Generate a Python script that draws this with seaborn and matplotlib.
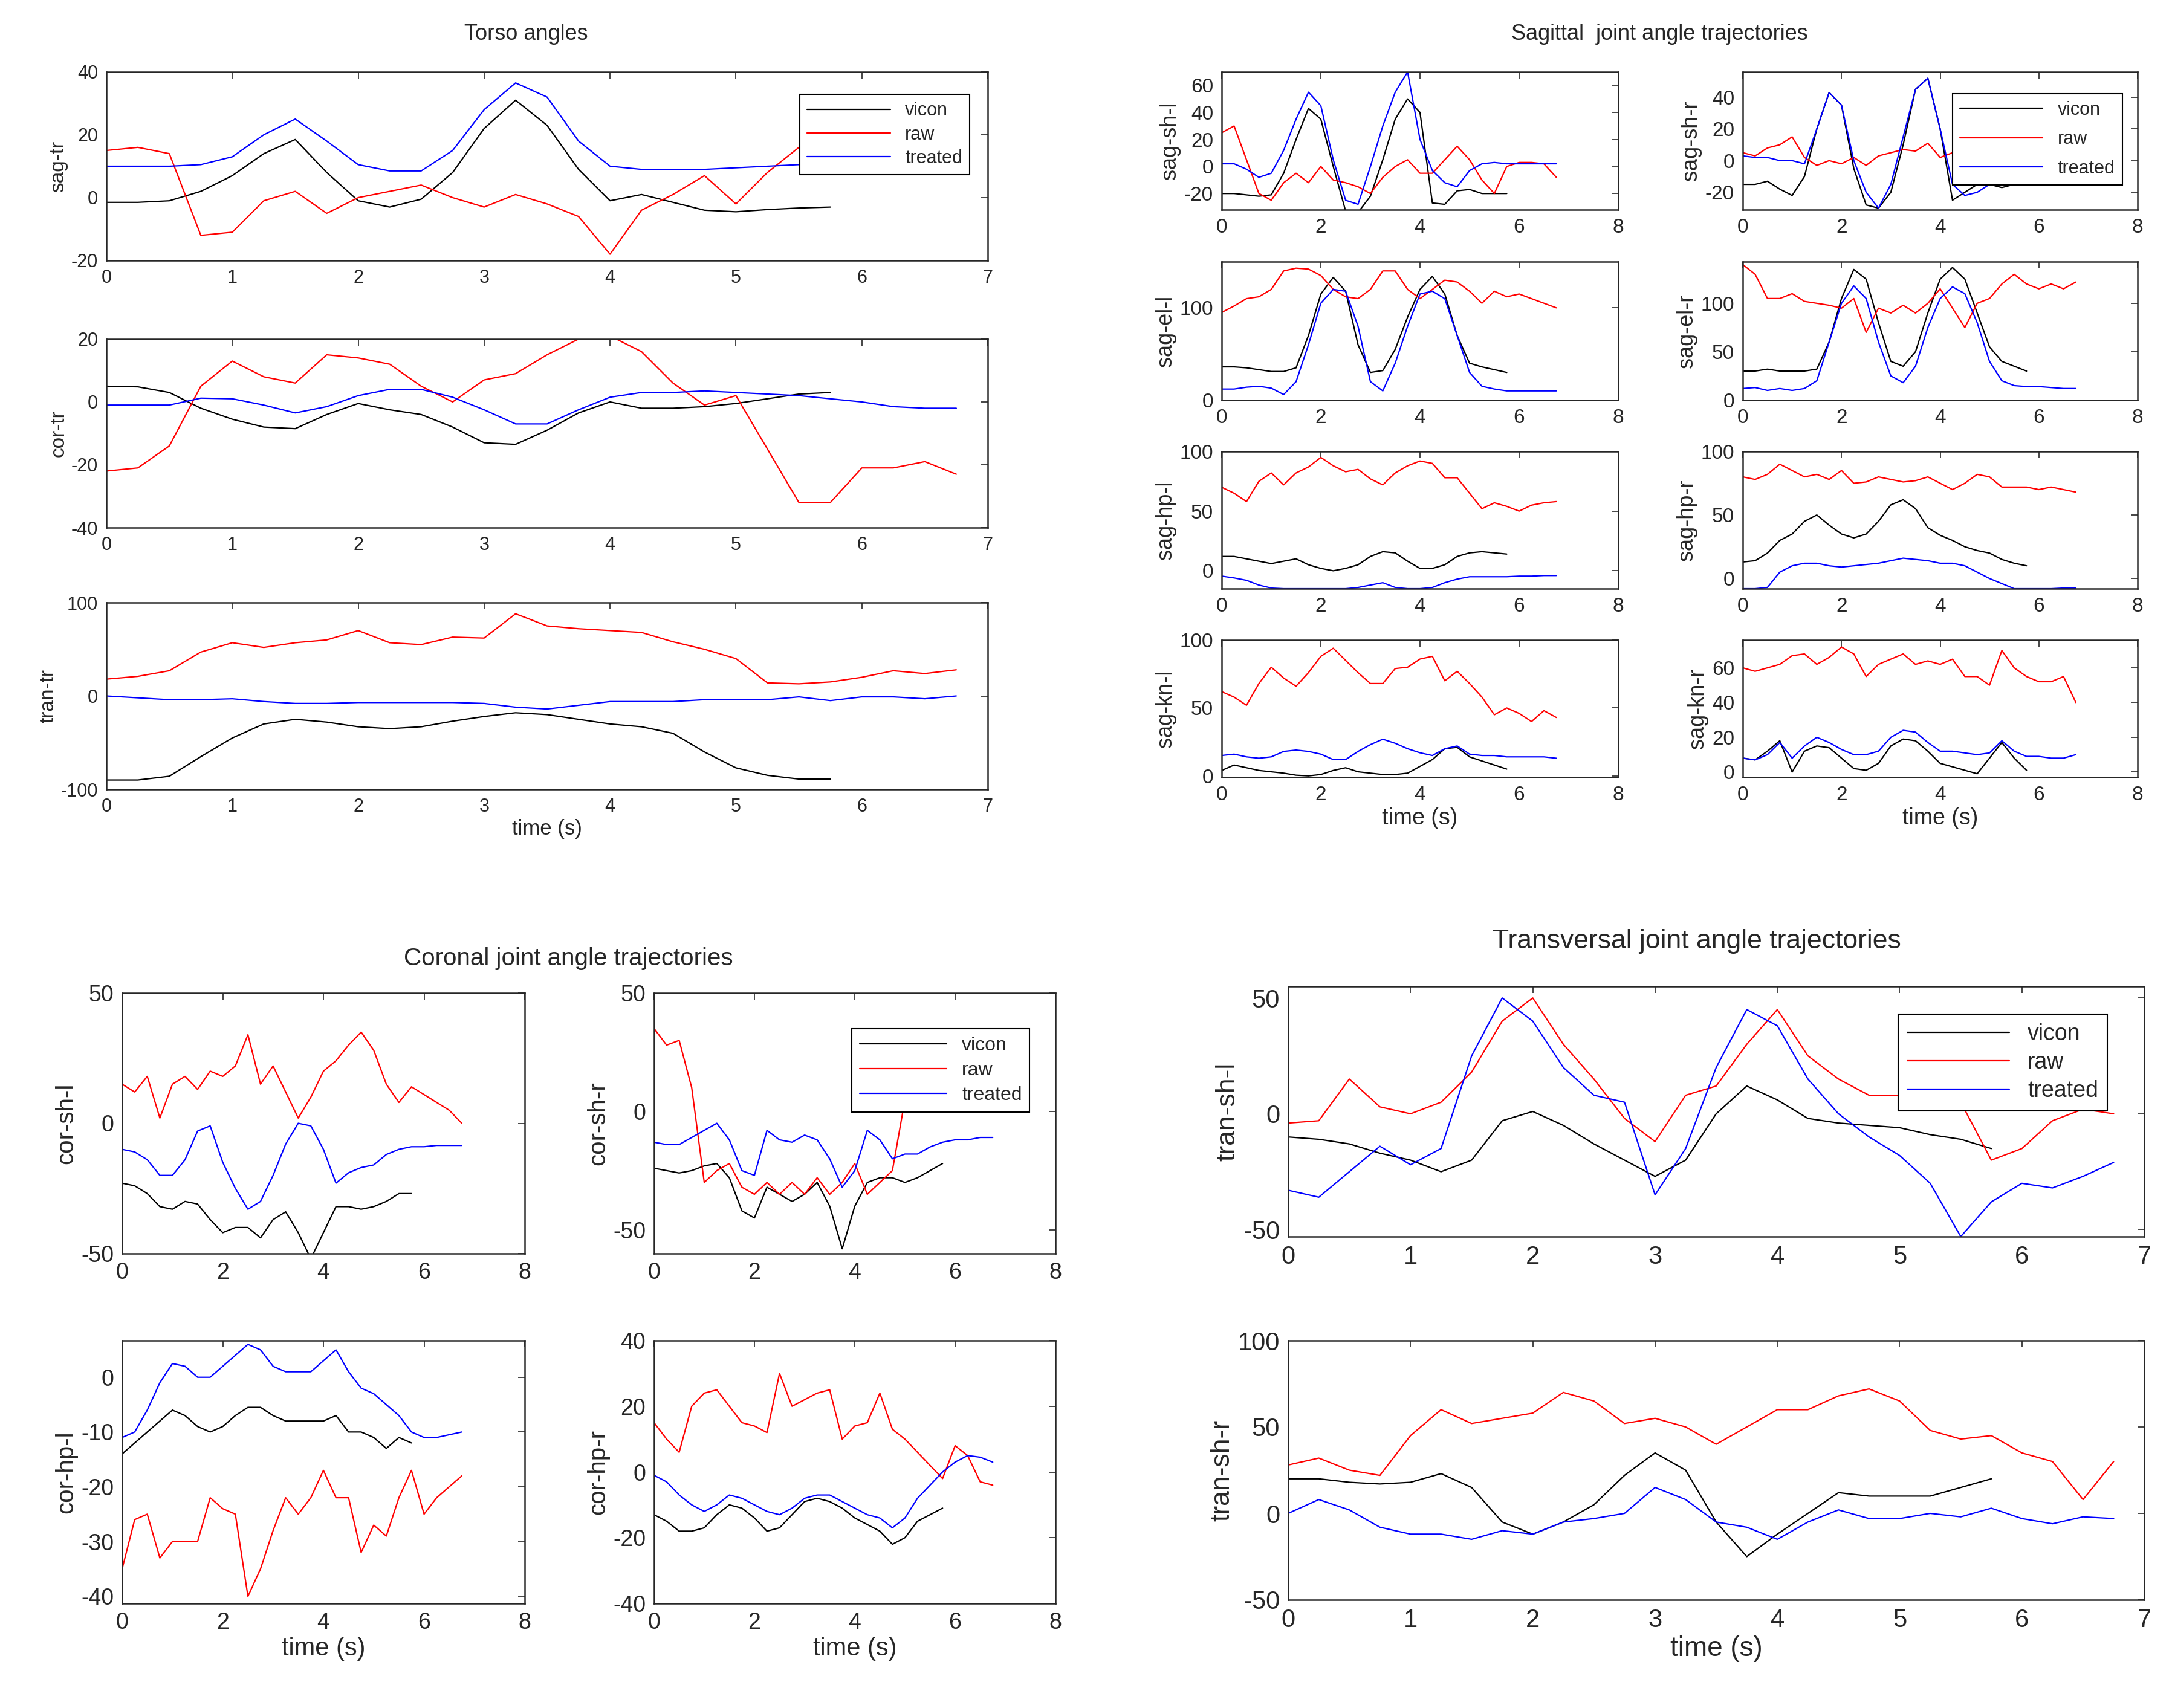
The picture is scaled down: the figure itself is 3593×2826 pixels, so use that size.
import matplotlib
matplotlib.use("Agg")
import matplotlib.pyplot as plt
import seaborn as sns

# time bases (s): vicon stops earlier than raw / treated
T_SHORT = [0.0, 0.25, 0.5, 0.75, 1.0, 1.25, 1.5, 1.75, 2.0, 2.25, 2.5, 2.75,
           3.0, 3.25, 3.5, 3.75, 4.0, 4.25, 4.5, 4.75, 5.0, 5.25, 5.5, 5.75]
T_LONG = T_SHORT + [6.0, 6.25, 6.5, 6.75]

# ---------------- torso ----------------
sag_tr_vicon = [-1.5, -1.5, -1, 2, 7, 14, 18.5, 8, -1, -3, -0.5, 8, 22, 31, 23, 9, -1, 1, -1.5, -4, -4.5, -3.8, -3.3, -3]
sag_tr_raw = [15, 16, 14, -12, -11, -1, 2, -5, 0, 2, 4, 0, -3, 1, -2, -6, -18, -4, 1, 7, -2, 8, 16, 22, 22, 22, 22, 22]
sag_tr_treated = [10, 10, 10, 10.5, 13, 20, 25, 18, 10.5, 8.5, 8.5, 15, 28, 36.5, 32, 18, 10, 9, 9, 9, 9.5, 10, 10.5, 10.5, 10.5, 10, 10, 9.5]

cor_tr_vicon = [5, 4.8, 3, -2, -5.5, -8, -8.5, -4, -0.5, -2.5, -4, -8, -13, -13.5, -9, -3.5, 0, -2, -2, -1.5, -0.5, 1, 2.5, 3]
cor_tr_raw = [-22, -21, -14, 5, 13, 8, 6, 15, 14, 12, 5, 0, 7, 9, 15, 20, 21, 16, 6, -1, 2, -15, -32, -32, -21, -21, -19, -23]
cor_tr_treated = [-1, -1, -1, 1.2, 1, -1, -3.5, -1.5, 2, 4, 4, 1.5, -2.5, -7, -7, -2.5, 1.5, 3, 3, 3.5, 3, 2.5, 2, 1, 0, -1.5, -2, -2]

tran_tr_vicon = [-90, -90, -86, -65, -45, -30, -25, -28, -33, -35, -33, -27, -22, -18, -20, -25, -30, -33, -40, -60, -77, -85, -89, -89]
tran_tr_raw = [18, 21, 27, 47, 57, 52, 57, 60, 70, 57, 55, 63, 62, 88, 75, 72, 70, 68, 58, 50, 40, 14, 13, 15, 20, 27, 24, 28]
tran_tr_treated = [0, -2, -4, -4, -3, -6, -8, -8, -7, -7, -7, -7, -8, -12, -14, -10, -6, -6, -6, -4, -4, -4, -1, -5, -1, -1, -3, 0]

# ---------------- sagittal ----------------
sag_sh_l_vicon = [-20, -20, -21, -22, -21, -5, 20, 43, 35, 0, -33, -34, -22, 5, 35, 50, 40, -27, -28, -18, -17, -20, -20, -20]
sag_sh_l_raw = [25, 30, 5, -20, -25, -12, -5, -12, 0, -10, -12, -15, -20, -8, 0, 5, -5, -5, 5, 15, 5, -10, -20, 0, 3, 3, 2, -8]
sag_sh_l_treated = [2, 2, -2, -8, -5, 12, 35, 55, 45, 5, -25, -28, 0, 30, 55, 70, 20, -3, -12, -15, -3, 2, 3, 2, 2, 2, 2, 2]

sag_sh_r_vicon = [-15, -15, -13, -18, -22, -10, 20, 43, 35, -5, -28, -30, -20, 10, 45, 52, 20, -25, -20, -15, -15, -17, -15, -15]
sag_sh_r_raw = [5, 3, 8, 10, 15, 2, -3, 0, -2, 2, -3, 3, 5, 7, 6, 11, 2, 5, 5, 5, 5, 5, 5, 5, 5, 5, 5, 5]
sag_sh_r_treated = [3, 2, 2, 0, 0, -2, 20, 43, 35, 0, -20, -30, -15, 15, 45, 52, 20, -15, -22, -20, -15, -13, -8, -6, -5, -5, -5, -5]

sag_el_l_vicon = [36, 36, 35, 33, 31, 31, 35, 70, 115, 133, 118, 60, 30, 32, 55, 90, 120, 134, 115, 70, 40, 36, 33, 30]
sag_el_l_raw = [95, 102, 110, 112, 120, 140, 143, 142, 135, 120, 112, 110, 120, 140, 140, 120, 110, 120, 130, 128, 118, 105, 118, 112, 115, 110, 105, 100]
sag_el_l_treated = [12, 12, 14, 15, 13, 6, 20, 60, 105, 120, 118, 80, 20, 10, 40, 80, 115, 118, 110, 70, 30, 15, 12, 10, 10, 10, 10, 10]

sag_el_r_vicon = [30, 30, 32, 30, 30, 30, 32, 60, 105, 135, 125, 80, 40, 35, 50, 90, 125, 137, 125, 90, 55, 40, 35, 30]
sag_el_r_raw = [140, 130, 105, 105, 110, 102, 100, 98, 95, 105, 70, 95, 90, 98, 90, 100, 115, 95, 75, 100, 105, 120, 130, 120, 115, 120, 115, 122]
sag_el_r_treated = [12, 13, 10, 12, 10, 12, 20, 60, 100, 118, 105, 60, 25, 18, 35, 75, 105, 117, 110, 80, 40, 20, 15, 14, 14, 13, 12, 12]

sag_hp_l_vicon = [12, 12, 10, 8, 6, 8, 10, 5, 2, 0, 2, 5, 12, 16, 15, 8, 2, 2, 5, 12, 15, 16, 15, 14]
sag_hp_l_raw = [70, 65, 58, 75, 82, 72, 82, 87, 95, 88, 83, 85, 77, 72, 82, 88, 92, 90, 78, 78, 65, 52, 57, 54, 50, 55, 57, 58]
sag_hp_l_treated = [-4.5, -6, -8, -12, -14.5, -15, -15, -15, -15, -15, -15, -14, -12, -10, -14, -15, -15, -14, -10, -7, -5, -5, -5, -5, -4.5, -4.5, -4, -4]

sag_hp_r_vicon = [13, 14, 20, 30, 35, 45, 50, 42, 35, 32, 35, 45, 58, 62, 55, 40, 34, 30, 25, 22, 20, 15, 12, 10]
sag_hp_r_raw = [80, 78, 82, 90, 85, 80, 82, 78, 85, 75, 76, 80, 78, 76, 77, 80, 75, 70, 75, 82, 80, 72, 72, 72, 70, 72, 70, 68]
sag_hp_r_treated = [-8, -8, -7, 5, 10, 12, 12, 10, 9, 10, 11, 12, 14, 16, 15, 14, 12, 12, 10, 5, 0, -4, -8, -8, -8, -8, -7.5, -7.5]

sag_kn_l_vicon = [4, 8, 6, 4, 3, 2, 0.5, 0, 1, 4, 6, 3, 2, 1, 1, 2, 7, 12, 20, 21, 14, 11, 8, 5]
sag_kn_l_raw = [62, 58, 52, 68, 80, 72, 66, 76, 88, 94, 85, 76, 68, 68, 79, 80, 86, 88, 70, 77, 68, 58, 45, 50, 46, 40, 48, 43]
sag_kn_l_treated = [15, 16, 14, 13, 14, 18, 19, 18, 16, 12, 12, 18, 23, 27, 24, 20, 17, 15, 20, 22, 16, 15, 15, 14, 14, 14, 14, 13]

sag_kn_r_vicon = [8, 7, 12, 18, 0, 12, 15, 14, 8, 2, 1, 5, 15, 19, 18, 12, 5, 3, 1, -1, 8, 17, 8, 1]
sag_kn_r_raw = [60, 58, 60, 62, 67, 68, 62, 66, 72, 68, 55, 62, 65, 68, 62, 64, 62, 65, 55, 55, 50, 70, 60, 55, 52, 52, 55, 40]
sag_kn_r_treated = [8, 7, 10, 17, 8, 15, 20, 17, 13, 10, 10, 12, 20, 24, 23, 17, 12, 12, 11, 10, 11, 18, 12, 9, 9, 8, 8, 10]

# ---------------- coronal ----------------
cor_sh_l_vicon = [-23, -24, -27, -32, -33, -30, -31, -37, -42, -40, -40, -44, -37, -34, -42, -52, -42, -32, -32, -33, -32, -30, -27, -27]
cor_sh_l_raw = [15, 12, 18, 2, 15, 18, 13, 20, 18, 22, 34, 15, 22, 12, 2, 10, 20, 24, 30, 35, 28, 15, 8, 14, 11, 8, 5, 0]
cor_sh_l_treated = [-10, -11, -14, -20, -20, -14, -3, -1, -15, -25, -33, -30, -20, -8, 0, -1, -10, -23, -19, -17, -16, -12, -10, -9, -9, -8.5, -8.5, -8.5]

cor_sh_r_vicon = [-24, -25, -26, -25, -23, -22, -28, -42, -45, -32, -35, -38, -35, -30, -40, -58, -40, -30, -28, -28, -30, -28, -25, -22]
cor_sh_r_raw = [35, 28, 30, 10, -30, -25, -22, -32, -35, -30, -35, -30, -35, -28, -35, -30, -22, -35, -30, -25, 5, 5, 5, 5, 5, 5, 5, 5]
cor_sh_r_treated = [-13, -14, -14, -11, -8, -5, -12, -25, -27, -8, -12, -13, -10, -12, -20, -32, -25, -8, -12, -20, -18, -18, -15, -13, -12, -12, -11, -11]

cor_hp_l_vicon = [-14, -12, -10, -8, -6, -7, -9, -10, -9, -7, -5.5, -5.5, -7, -8, -8, -8, -8, -7, -10, -10, -11, -13, -11, -12]
cor_hp_l_raw = [-35, -26, -25, -33, -30, -30, -30, -22, -24, -25, -40, -35, -28, -22, -25, -22, -17, -22, -22, -32, -27, -29, -22, -17, -25, -22, -20, -18]
cor_hp_l_treated = [-11, -10, -6, -1, 2.5, 2, 0, 0, 2, 4, 6, 5, 2, 1, 1, 1, 3, 5, 1, -2, -3, -5, -7, -10, -11, -11, -10.5, -10]

cor_hp_r_vicon = [-13, -15, -18, -18, -17, -13, -10, -11, -14, -18, -17, -13, -9, -8, -9, -11, -14, -16, -18, -22, -20, -15, -13, -11]
cor_hp_r_raw = [15, 10, 6, 20, 24, 25, 20, 15, 14, 12, 30, 20, 22, 24, 25, 10, 14, 15, 24, 13, 10, 6, 2, -2, 8, 5, -3, -4]
cor_hp_r_treated = [-1, -3, -7, -10, -12, -10, -7, -8, -10, -12, -13, -11, -8, -7, -7, -9, -11, -13, -14, -17, -14, -8, -4, 0, 3, 5, 4.5, 3]

# ---------------- transversal ----------------
tran_sh_l_vicon = [-10, -11, -13, -17, -20, -25, -20, -3, 1, -5, -13, -20, -27, -20, 0, 12, 6, -2, -4, -5, -6, -9, -11, -15]
tran_sh_l_raw = [-4, -3, 15, 3, 0, 5, 18, 40, 50, 30, 15, -2, -12, 8, 12, 30, 45, 25, 15, 8, 8, 20, 5, -20, -15, -3, 2, 0]
tran_sh_l_treated = [-33, -36, -25, -14, -22, -15, 25, 50, 40, 20, 8, 5, -35, -15, 20, 45, 38, 15, 0, -10, -18, -30, -53, -38, -30, -32, -27, -21]

tran_sh_r_vicon = [20, 20, 18, 17, 18, 23, 15, -5, -12, -5, 5, 22, 35, 25, -5, -25, -12, 0, 12, 10, 10, 10, 15, 20]
tran_sh_r_raw = [28, 32, 25, 22, 45, 60, 52, 55, 58, 70, 65, 52, 55, 50, 40, 50, 60, 60, 68, 72, 65, 48, 43, 45, 35, 30, 8, 30]
tran_sh_r_treated = [0, 8, 2, -8, -12, -12, -15, -10, -12, -5, -3, 0, 15, 8, -5, -8, -15, -5, 2, -3, -3, 0, -2, 3, -3, -6, -2, -3]

sns.set_style("white")
plt.rcParams['font.family'] = ['Liberation Sans', 'DejaVu Sans']
plt.rcParams['axes.unicode_minus'] = False

W, H = 3593, 2826
fig = plt.figure(figsize=(W / 100, H / 100), dpi=100)


def box(x0, y0, x1, y1):
    # pixel box (from top-left) -> figure axes
    return fig.add_axes([x0 / W, 1 - y1 / H, (x1 - x0) / W, (y1 - y0) / H])


def panel(rect, vicon, raw, treated, ylab, ylim, yticks, xmax, fs, xlabel=False):
    ax = box(*rect)
    sns.lineplot(x=T_SHORT, y=vicon, color='black', lw=1.6, ax=ax, label='vicon')
    sns.lineplot(x=T_LONG, y=raw, color='red', lw=1.6, ax=ax, label='raw')
    sns.lineplot(x=T_LONG, y=treated, color='blue', lw=1.6, ax=ax, label='treated')
    ax.get_legend().remove()
    ax.set_xlim(0, xmax)
    ax.set_ylim(*ylim)
    ax.set_yticks(yticks)
    ax.set_xticks(range(0, xmax + 1, 1 if xmax == 7 else 2))
    ax.tick_params(direction='in', top=True, right=True, labelsize=fs, length=8,
                   width=1.2, colors='#262626', pad=10)
    for s in ax.spines.values():
        s.set_color('#262626')
        s.set_linewidth(1.8)
    ax.set_ylabel(ylab, fontsize=fs + 2, color='#262626')
    ax.set_xlabel('time (s)' if xlabel else '', fontsize=fs + 3, color='#262626')
    return ax


def legend(ax, anchor, fs, spacing=0.3):
    ax.legend(loc='upper right', bbox_to_anchor=anchor, fontsize=fs, frameon=True,
              fancybox=False, edgecolor='black', framealpha=1, handlelength=4.5,
              borderpad=0.4, labelspacing=spacing)
    ax.get_legend().get_frame().set_linewidth(1.5)
    ax.get_legend().set_zorder(10)


# Torso angles
fs = 22
a = panel((176, 119, 1634, 431), sag_tr_vicon, sag_tr_raw, sag_tr_treated, 'sag-tr', (-20, 40), [-20, 0, 20, 40], 7, fs)
legend(a, (0.99, 0.93), fs)
panel((176, 561, 1634, 873), cor_tr_vicon, cor_tr_raw, cor_tr_treated, 'cor-tr', (-40, 20), [-40, -20, 0, 20], 7, fs)
panel((176, 997, 1634, 1306), tran_tr_vicon, tran_tr_raw, tran_tr_treated, 'tran-tr', (-100, 100), [-100, 0, 100], 7, fs, True)
fig.text(870 / W, 1 - 57 / H, 'Torso angles', ha='center', va='center', fontsize=26)

# Sagittal joint angle trajectories
fs = 24
cols = [(2021, 2677), (2883, 3536)]
rows = [(119, 347), (433, 662), (747, 974), (1059, 1286)]
sag = [
    [(sag_sh_l_vicon, sag_sh_l_raw, sag_sh_l_treated, 'sag-sh-l', (-32, 70), [-20, 0, 20, 40, 60]),
     (sag_sh_r_vicon, sag_sh_r_raw, sag_sh_r_treated, 'sag-sh-r', (-31, 56), [-20, 0, 20, 40])],
    [(sag_el_l_vicon, sag_el_l_raw, sag_el_l_treated, 'sag-el-l', (0, 150), [0, 100]),
     (sag_el_r_vicon, sag_el_r_raw, sag_el_r_treated, 'sag-el-r', (0, 143), [0, 50, 100])],
    [(sag_hp_l_vicon, sag_hp_l_raw, sag_hp_l_treated, 'sag-hp-l', (-15, 100), [0, 50, 100]),
     (sag_hp_r_vicon, sag_hp_r_raw, sag_hp_r_treated, 'sag-hp-r', (-8, 100), [0, 50, 100])],
    [(sag_kn_l_vicon, sag_kn_l_raw, sag_kn_l_treated, 'sag-kn-l', (-1, 100), [0, 50, 100]),
     (sag_kn_r_vicon, sag_kn_r_raw, sag_kn_r_treated, 'sag-kn-r', (-3, 76), [0, 20, 40, 60])],
]
for i, (y0, y1) in enumerate(rows):
    for j, (x0, x1) in enumerate(cols):
        v, r, t, lab, yl, yt = sag[i][j]
        a = panel((x0, y0, x1, y1), v, r, t, lab, yl, yt, 8, fs, i == 3)
        if i == 0 and j == 1:
            legend(a, (0.985, 0.91), 22, spacing=0.6)
fig.text(2745 / W, 1 - 57 / H, 'Sagittal  joint angle trajectories', ha='center', va='center', fontsize=26)

# Coronal joint angle trajectories
fs = 27
cols = [(202, 868), (1082, 1746)]
rows = [(1643, 2074), (2218, 2653)]
cor = [
    [(cor_sh_l_vicon, cor_sh_l_raw, cor_sh_l_treated, 'cor-sh-l', (-50, 50), [-50, 0, 50]),
     (cor_sh_r_vicon, cor_sh_r_raw, cor_sh_r_treated, 'cor-sh-r', (-60, 50), [-50, 0, 50])],
    [(cor_hp_l_vicon, cor_hp_l_raw, cor_hp_l_treated, 'cor-hp-l', (-41.3, 6.7), [-40, -30, -20, -10, 0]),
     (cor_hp_r_vicon, cor_hp_r_raw, cor_hp_r_treated, 'cor-hp-r', (-40, 40), [-40, -20, 0, 20, 40])],
]
for i, (y0, y1) in enumerate(rows):
    for j, (x0, x1) in enumerate(cols):
        v, r, t, lab, yl, yt = cor[i][j]
        a = panel((x0, y0, x1, y1), v, r, t, lab, yl, yt, 8, fs, i == 1)
        if i == 0 and j == 1:
            legend(a, (0.96, 0.9), 23, spacing=0.35)
fig.text(940 / W, 1 - 1586 / H, 'Coronal joint angle trajectories', ha='center', va='center', fontsize=29)

# Transversal joint angle trajectories
fs = 30
a = panel((2131, 1632, 3547, 2046), tran_sh_l_vicon, tran_sh_l_raw, tran_sh_l_treated, 'tran-sh-l', (-53, 55), [-50, 0, 50], 7, fs)
legend(a, (0.97, 0.935), 27, spacing=0.3)
panel((2131, 2218, 3547, 2647), tran_sh_r_vicon, tran_sh_r_raw, tran_sh_r_treated, 'tran-sh-r', (-50, 100), [-50, 0, 50, 100], 7, fs, True)
fig.text(2807 / W, 1 - 1558 / H, 'Transversal joint angle trajectories', ha='center', va='center', fontsize=32)

fig.savefig('out.png', dpi=100)
